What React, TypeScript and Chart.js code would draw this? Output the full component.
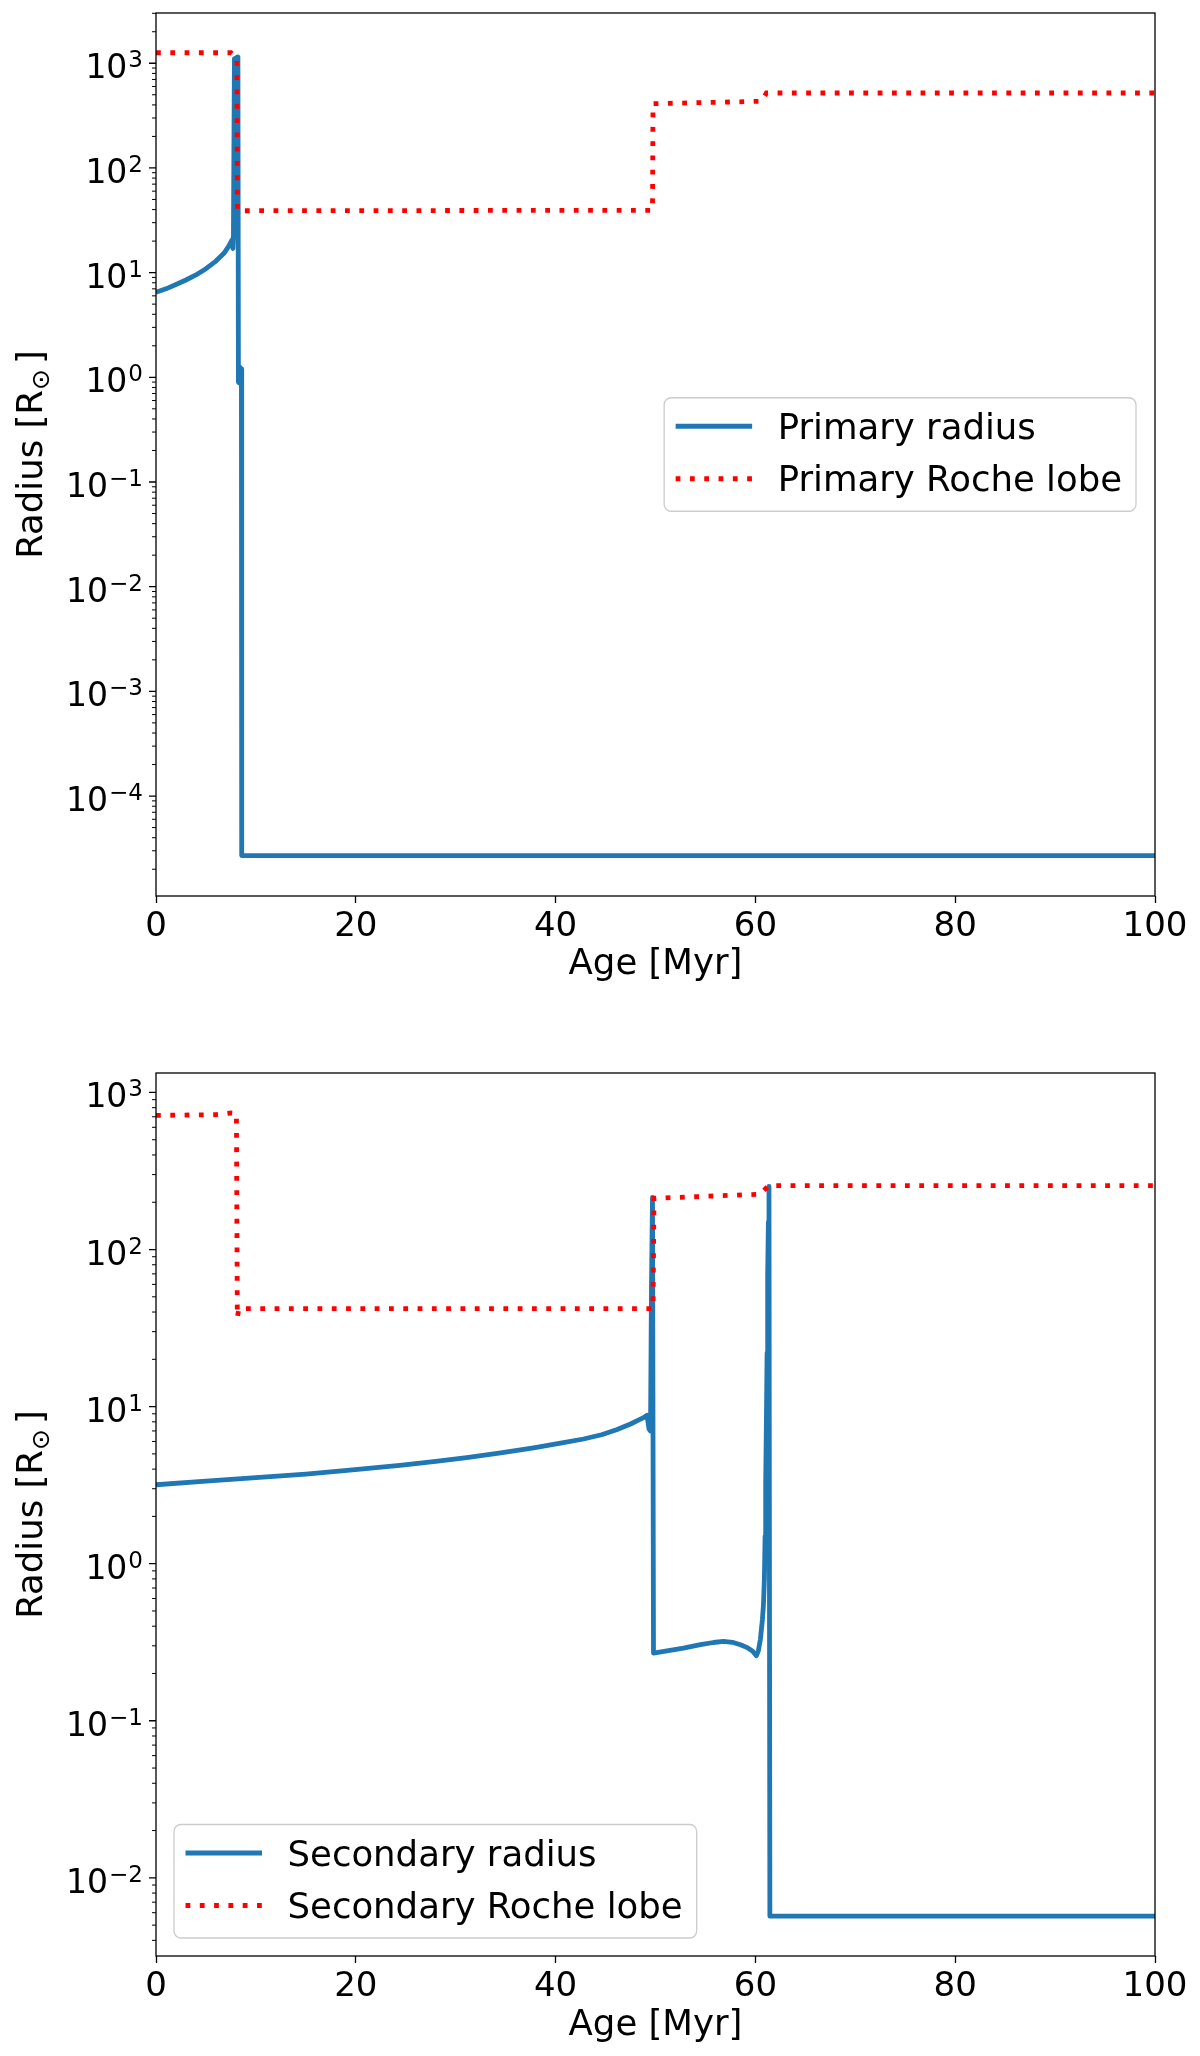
import React, { useEffect, useRef } from 'react';
import { Chart, registerables } from 'chart.js';

Chart.register(...registerables);

const FONT = "'DejaVu Sans', sans-serif";
const BLUE = '#1f77b4';
const RED = '#ff0000';
const DOT = [4.8, 9.5];

// ---------- Top panel (primary) ----------
const primaryRadiusAge = [0, 1, 2, 3, 4, 5, 6, 6.8, 7.3, 7.6, 7.7, 7.75, 7.85, 8.2, 8.25, 8.35, 8.4, 8.55, 8.58, 100];
const primaryRadius = [6.5, 7.0, 7.7, 8.5, 9.5, 10.9, 12.9, 15.3, 18.0, 20.5, 17.0, 22, 1100, 1150, 0.9, 0.88, 1.25, 1.2, 2.7e-5, 2.7e-5];
const primaryRocheAge = [0, 7.5, 8.1, 8.15, 49.7, 49.75, 60.6, 61.1, 100];
const primaryRoche = [1260, 1260, 1120, 39, 39.4, 411, 433, 520, 520];

// ---------- Bottom panel (secondary) ----------
const secondaryRadiusAge = [
  0, 5, 10, 15, 19.4, 24.4, 28, 31.1, 34.5, 37.8, 40.5, 42.8, 44.6, 46.1, 47.5, 48.8, 49.15, 49.35, 49.5, 49.6, 49.7,
  49.8, 51.3, 52.8, 54.5, 55.8, 56.8, 57.7, 58.5, 59.2, 59.7, 60.1,
  60.3, 60.5, 60.7, 60.8, 60.9, 60.97, 61.03, 61.1, 61.17, 61.23, 61.3, 61.36, 61.45, 100,
];
const secondaryRadius = [
  3.18, 3.35, 3.53, 3.72, 3.94, 4.22, 4.48, 4.73, 5.07, 5.46, 5.85, 6.22, 6.62, 7.13, 7.75, 8.5, 8.8, 7.2, 7.0, 60, 215,
  0.27, 0.28, 0.29, 0.305, 0.315, 0.32, 0.316, 0.305, 0.292, 0.278, 0.26,
  0.28, 0.33, 0.44, 0.54, 0.8, 1.5, 3.3, 8, 22, 70, 150, 252, 0.0057, 0.0057,
];
const secondaryRocheAge = [0, 6, 7.5, 8.05, 8.14, 8.3, 49.75, 49.85, 60.5, 61.3, 100];
const secondaryRoche = [714, 722, 740, 735, 37, 42, 42, 212, 225, 255, 255];

// ---------- Axes ----------
const xTickStep = 20;
const xMin = 0;
const xMax = 100;
const topExponents = [-4, -3, -2, -1, 0, 1, 2, 3];
const bottomExponents = [-2, -1, 0, 1, 2, 3];
const topYRange = [1.11e-5, 3020];
const bottomYRange = [0.00318, 1330];

const xTitle = 'Age [Myr]';
const yTitleMain = 'Radius [R';
const yTitleSub = '\u2299';
const yTitleEnd = ']';

function pts(xs: number[], ys: number[]) {
  return xs.map((x, i) => ({ x, y: ys[i] }));
}

function expText(e: number) {
  return (e < 0 ? '\u2212' : '') + Math.abs(e);
}

type LegendItem = { label: string; color: string; dash: number[] };
type LegendSpec = { items: LegendItem[]; anchor: 'centerRight' | 'lowerLeft' };

function roundRectPath(ctx: CanvasRenderingContext2D, x: number, y: number, w: number, h: number, r: number) {
  ctx.beginPath();
  ctx.moveTo(x + r, y);
  ctx.lineTo(x + w - r, y);
  ctx.arcTo(x + w, y, x + w, y + r, r);
  ctx.lineTo(x + w, y + h - r);
  ctx.arcTo(x + w, y + h, x + w - r, y + h, r);
  ctx.lineTo(x + r, y + h);
  ctx.arcTo(x, y + h, x, y + h - r, r);
  ctx.lineTo(x, y + r);
  ctx.arcTo(x, y, x + r, y, r);
  ctx.closePath();
}

function decorPlugin(exponents: number[], legend: LegendSpec) {
  return {
    id: 'decor',
    afterDraw(chart: any) {
      const ctx: CanvasRenderingContext2D = chart.ctx;
      const a = chart.chartArea;
      const ys = chart.scales.y;
      ctx.save();
      // frame
      ctx.strokeStyle = '#000';
      ctx.lineWidth = 1.3;
      ctx.setLineDash([]);
      ctx.strokeRect(a.left, a.top, a.right - a.left, a.bottom - a.top);
      // minor ticks
      const lo = Math.floor(Math.log10(ys.min));
      const hi = Math.ceil(Math.log10(ys.max));
      ctx.lineWidth = 1.0;
      ctx.beginPath();
      for (let e = lo; e <= hi; e++) {
        for (let m = 2; m <= 9; m++) {
          const v = m * Math.pow(10, e);
          if (v < ys.min || v > ys.max) continue;
          const py = ys.getPixelForValue(v);
          ctx.moveTo(a.left - 4, py);
          ctx.lineTo(a.left, py);
        }
      }
      ctx.stroke();
      // major ticks
      ctx.lineWidth = 1.3;
      ctx.beginPath();
      exponents.forEach((e) => {
        const py = ys.getPixelForValue(Math.pow(10, e));
        ctx.moveTo(a.left - 7, py);
        ctx.lineTo(a.left, py);
      });
      ctx.stroke();
      // tick labels 10^e
      ctx.fillStyle = '#000';
      ctx.textAlign = 'right';
      ctx.textBaseline = 'alphabetic';
      const right = a.left - 13;
      exponents.forEach((e) => {
        const py = ys.getPixelForValue(Math.pow(10, e));
        const s = expText(e);
        ctx.font = `23px ${FONT}`;
        const w = ctx.measureText(s).width;
        ctx.fillText(s, right, py + 4);
        ctx.font = `33px ${FONT}`;
        ctx.fillText('10', right - w - 1, py + 15);
      });
      // y title
      const cy = (a.top + a.bottom) / 2;
      const fMain = `35.5px ${FONT}`;
      const fSub = `25px ${FONT}`;
      ctx.font = fMain;
      const w1 = ctx.measureText(yTitleMain).width;
      const w3 = ctx.measureText(yTitleEnd).width;
      ctx.font = fSub;
      const w2 = ctx.measureText(yTitleSub).width;
      const gap = 5;
      const total = w1 + w2 + gap + w3;
      ctx.save();
      ctx.translate(42, cy);
      ctx.rotate(-Math.PI / 2);
      ctx.textAlign = 'left';
      let x = -total / 2;
      ctx.font = fMain;
      ctx.fillText(yTitleMain, x, 0);
      x += w1;
      ctx.font = fSub;
      ctx.fillText(yTitleSub, x, 7);
      x += w2 + gap;
      ctx.font = fMain;
      ctx.fillText(yTitleEnd, x, 0);
      ctx.restore();

      // legend
      ctx.font = `35.5px ${FONT}`;
      const textW = Math.max(...legend.items.map((it) => ctx.measureText(it.label).width));
      const padL = 11.5, lineLen = 76.5, gapT = 25.5, padR = 14;
      const lw = padL + lineLen + gapT + textW + padR;
      const lh = 113.5;
      let left: number, top: number;
      if (legend.anchor === 'centerRight') {
        left = a.right - 19 - lw;
        top = (a.top + a.bottom) / 2 - lh / 2;
      } else {
        left = a.left + 18;
        top = a.bottom - 18 - lh;
      }
      roundRectPath(ctx, left, top, lw, lh, 7);
      ctx.fillStyle = 'rgba(255,255,255,0.8)';
      ctx.fill();
      ctx.strokeStyle = '#cccccc';
      ctx.lineWidth = 1.3;
      ctx.stroke();
      legend.items.forEach((it, i) => {
        const ry = top + 28.5 + i * 52.5;
        ctx.beginPath();
        ctx.setLineDash(it.dash);
        ctx.strokeStyle = it.color;
        ctx.lineWidth = 4.8;
        ctx.lineCap = 'butt';
        ctx.moveTo(left + padL, ry);
        ctx.lineTo(left + padL + lineLen, ry);
        ctx.stroke();
        ctx.setLineDash([]);
        ctx.fillStyle = '#000';
        ctx.textAlign = 'left';
        ctx.textBaseline = 'alphabetic';
        ctx.font = `35.5px ${FONT}`;
        ctx.fillText(it.label, left + padL + lineLen + gapT, ry + 12.5);
      });
      ctx.restore();
    },
  };
}

type PanelSpec = {
  radiusLabel: string;
  rocheLabel: string;
  radiusAge: number[];
  radius: number[];
  rocheAge: number[];
  roche: number[];
  yRange: number[];
  exponents: number[];
  padding: { left: number; right: number; top: number; bottom: number };
  xAxisHeight: number;
  anchor: 'centerRight' | 'lowerLeft';
};

function makeConfig(p: PanelSpec): any {
  return {
    type: 'line',
    data: {
      datasets: [
        {
          label: p.radiusLabel,
          data: pts(p.radiusAge, p.radius),
          borderColor: BLUE,
          backgroundColor: BLUE,
          borderWidth: 4.8,
          borderJoinStyle: 'round',
          pointRadius: 0,
          pointHoverRadius: 0,
          tension: 0,
          fill: false,
          order: 2,
        },
        {
          label: p.rocheLabel,
          data: pts(p.rocheAge, p.roche),
          borderColor: RED,
          backgroundColor: RED,
          borderWidth: 4.8,
          borderDash: DOT,
          borderCapStyle: 'butt',
          pointRadius: 0,
          pointHoverRadius: 0,
          tension: 0,
          fill: false,
          order: 1,
        },
      ],
    },
    options: {
      animation: false,
      responsive: false,
      events: [],
      layout: { padding: p.padding },
      plugins: {
        legend: { display: false },
        tooltip: { enabled: false },
        title: { display: false },
      },
      scales: {
        x: {
          type: 'linear',
          min: xMin,
          max: xMax,
          ticks: {
            stepSize: xTickStep,
            font: { family: FONT, size: 34 },
            color: '#000',
            padding: 4,
            maxRotation: 0,
            autoSkip: false,
          },
          grid: {
            display: true,
            drawOnChartArea: false,
            drawTicks: true,
            tickLength: 7,
            tickWidth: 1.3,
            tickColor: '#000',
          },
          border: { display: false },
          title: {
            display: true,
            text: xTitle,
            font: { family: FONT, size: 35.5 },
            color: '#000',
            padding: 0,
          },
          afterFit: (s: any) => {
            s.height = p.xAxisHeight;
          },
        },
        y: {
          type: 'logarithmic',
          min: p.yRange[0],
          max: p.yRange[1],
          ticks: { display: false },
          grid: { display: false },
          border: { display: false },
          title: { display: false },
          afterFit: (s: any) => {
            s.width = 146;
          },
        },
      },
    },
    plugins: [
      decorPlugin(p.exponents, {
        anchor: p.anchor,
        items: [
          { label: p.radiusLabel, color: BLUE, dash: [] },
          { label: p.rocheLabel, color: RED, dash: DOT },
        ],
      }),
    ],
  };
}

const topPanel: PanelSpec = {
  radiusLabel: 'Primary radius',
  rocheLabel: 'Primary Roche lobe',
  radiusAge: primaryRadiusAge,
  radius: primaryRadius,
  rocheAge: primaryRocheAge,
  roche: primaryRoche,
  yRange: topYRange,
  exponents: topExponents,
  padding: { left: 10, right: 45, top: 13, bottom: 44 },
  xAxisHeight: 90,
  anchor: 'centerRight',
};

const bottomPanel: PanelSpec = {
  radiusLabel: 'Secondary radius',
  rocheLabel: 'Secondary Roche lobe',
  radiusAge: secondaryRadiusAge,
  radius: secondaryRadius,
  rocheAge: secondaryRocheAge,
  roche: secondaryRoche,
  yRange: bottomYRange,
  exponents: bottomExponents,
  padding: { left: 10, right: 45, top: 43, bottom: 9 },
  xAxisHeight: 91,
  anchor: 'lowerLeft',
};

function Panel({ spec, top, height }: { spec: PanelSpec; top: number; height: number }) {
  const ref = useRef<HTMLCanvasElement>(null);
  useEffect(() => {
    if (!ref.current) return;
    const chart = new Chart(ref.current, makeConfig(spec));
    return () => chart.destroy();
  }, []);
  return (
    <canvas
      ref={ref}
      width={1200}
      height={height}
      style={{ position: 'absolute', left: 0, top, width: 1200, height, display: 'block' }}
    />
  );
}

export default function App() {
  Chart.defaults.color = '#000';
  Chart.defaults.font.family = FONT;
  return (
    <div style={{ position: 'absolute', left: 0, top: 0, width: 1200, height: 2056, background: '#fff', overflow: 'hidden' }}>
      <Panel spec={topPanel} top={0} height={1030} />
      <Panel spec={bottomPanel} top={1030} height={1026} />
    </div>
  );
}
